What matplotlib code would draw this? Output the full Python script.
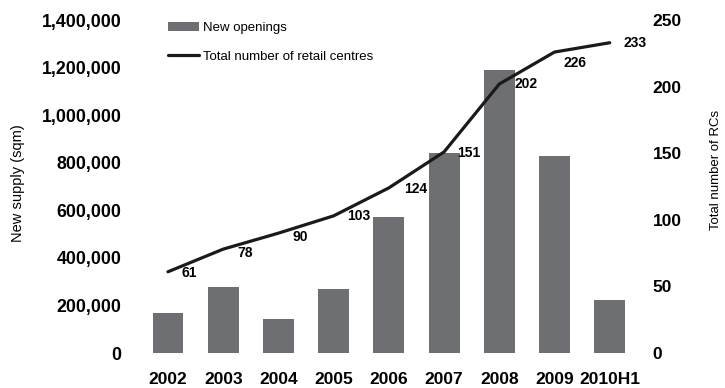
import matplotlib
matplotlib.use('Agg')
import matplotlib.pyplot as plt
import matplotlib.ticker as ticker

plt.rcParams['font.family'] = ['Liberation Sans', 'DejaVu Sans']

years = ['2002', '2003', '2004', '2005', '2006', '2007', '2008', '2009', '2010H1']
new_supply = [168000, 278000, 143000, 270000, 573000, 842000, 1192000, 829000, 223000]
total_rcs = [61, 78, 90, 103, 124, 151, 202, 226, 233]

bar_color = '#6e6f73'
line_color = '#1a1a1a'

fig = plt.figure(figsize=(7.25, 3.88), dpi=100)
ax = fig.add_axes([0.186, 0.0902, 0.7007, 0.858])
ax2 = ax.twinx()

x = list(range(len(years)))
bars = ax.bar(x, new_supply, width=0.56, color=bar_color, label='New openings', zorder=2)
line, = ax2.plot(x, total_rcs, color=line_color, lw=2.3, solid_capstyle='round',
                 label='Total number of retail centres', zorder=3)

# value labels sit to the lower right of each point
offsets = [(15, -1), (16, -3), (16, -3), (18, 0), (19, -1), (18, -1), (19, 0), (15, -8), (18, 0)]
for xi, v, off in zip(x, total_rcs, offsets):
    ax2.annotate(str(v), (xi, v), xytext=off, textcoords='offset points',
                 ha='center', va='center', fontsize=10, fontweight='bold')

ax.set_xlim(-0.6, 8.6)
ax.set_ylim(0, 1400000)
ax2.set_ylim(0, 250)
ax.yaxis.set_major_locator(ticker.MultipleLocator(200000))
ax.yaxis.set_major_formatter(ticker.FuncFormatter(lambda v, p: f'{int(v):,}'))
ax2.yaxis.set_major_locator(ticker.MultipleLocator(50))

ax.set_xticks(x)
ax.set_xticklabels(years)

for a in (ax, ax2):
    for s in a.spines.values():
        s.set_visible(False)
    a.patch.set_visible(False)

ax.tick_params(axis='y', length=0, pad=9.5, labelsize=12.8)
ax.tick_params(axis='x', length=0, pad=14, labelsize=12.5)
ax2.tick_params(axis='y', length=0, pad=7, labelsize=12.5)
for lab in ax.get_xticklabels() + ax.get_yticklabels() + ax2.get_yticklabels():
    lab.set_fontweight('bold')

# axis titles placed in figure coordinates
fig.text(18 / 725, 1 - 183 / 388, 'New supply (sqm)', rotation=90,
         ha='center', va='center', fontsize=10.5)
fig.text(716 / 725, 1 - 170 / 388, 'Total number of RCs', rotation=90,
         ha='center', va='center', fontsize=9.5)

ax2.legend([bars, line], ['New openings', 'Total number of retail centres'],
           loc='upper left', bbox_to_anchor=(0.065, 0.995), frameon=False,
           borderaxespad=0, borderpad=0, fontsize=9.5, handlelength=2.35,
           handletextpad=0.3, labelspacing=1.25)

fig.savefig('out.png', dpi=100)
